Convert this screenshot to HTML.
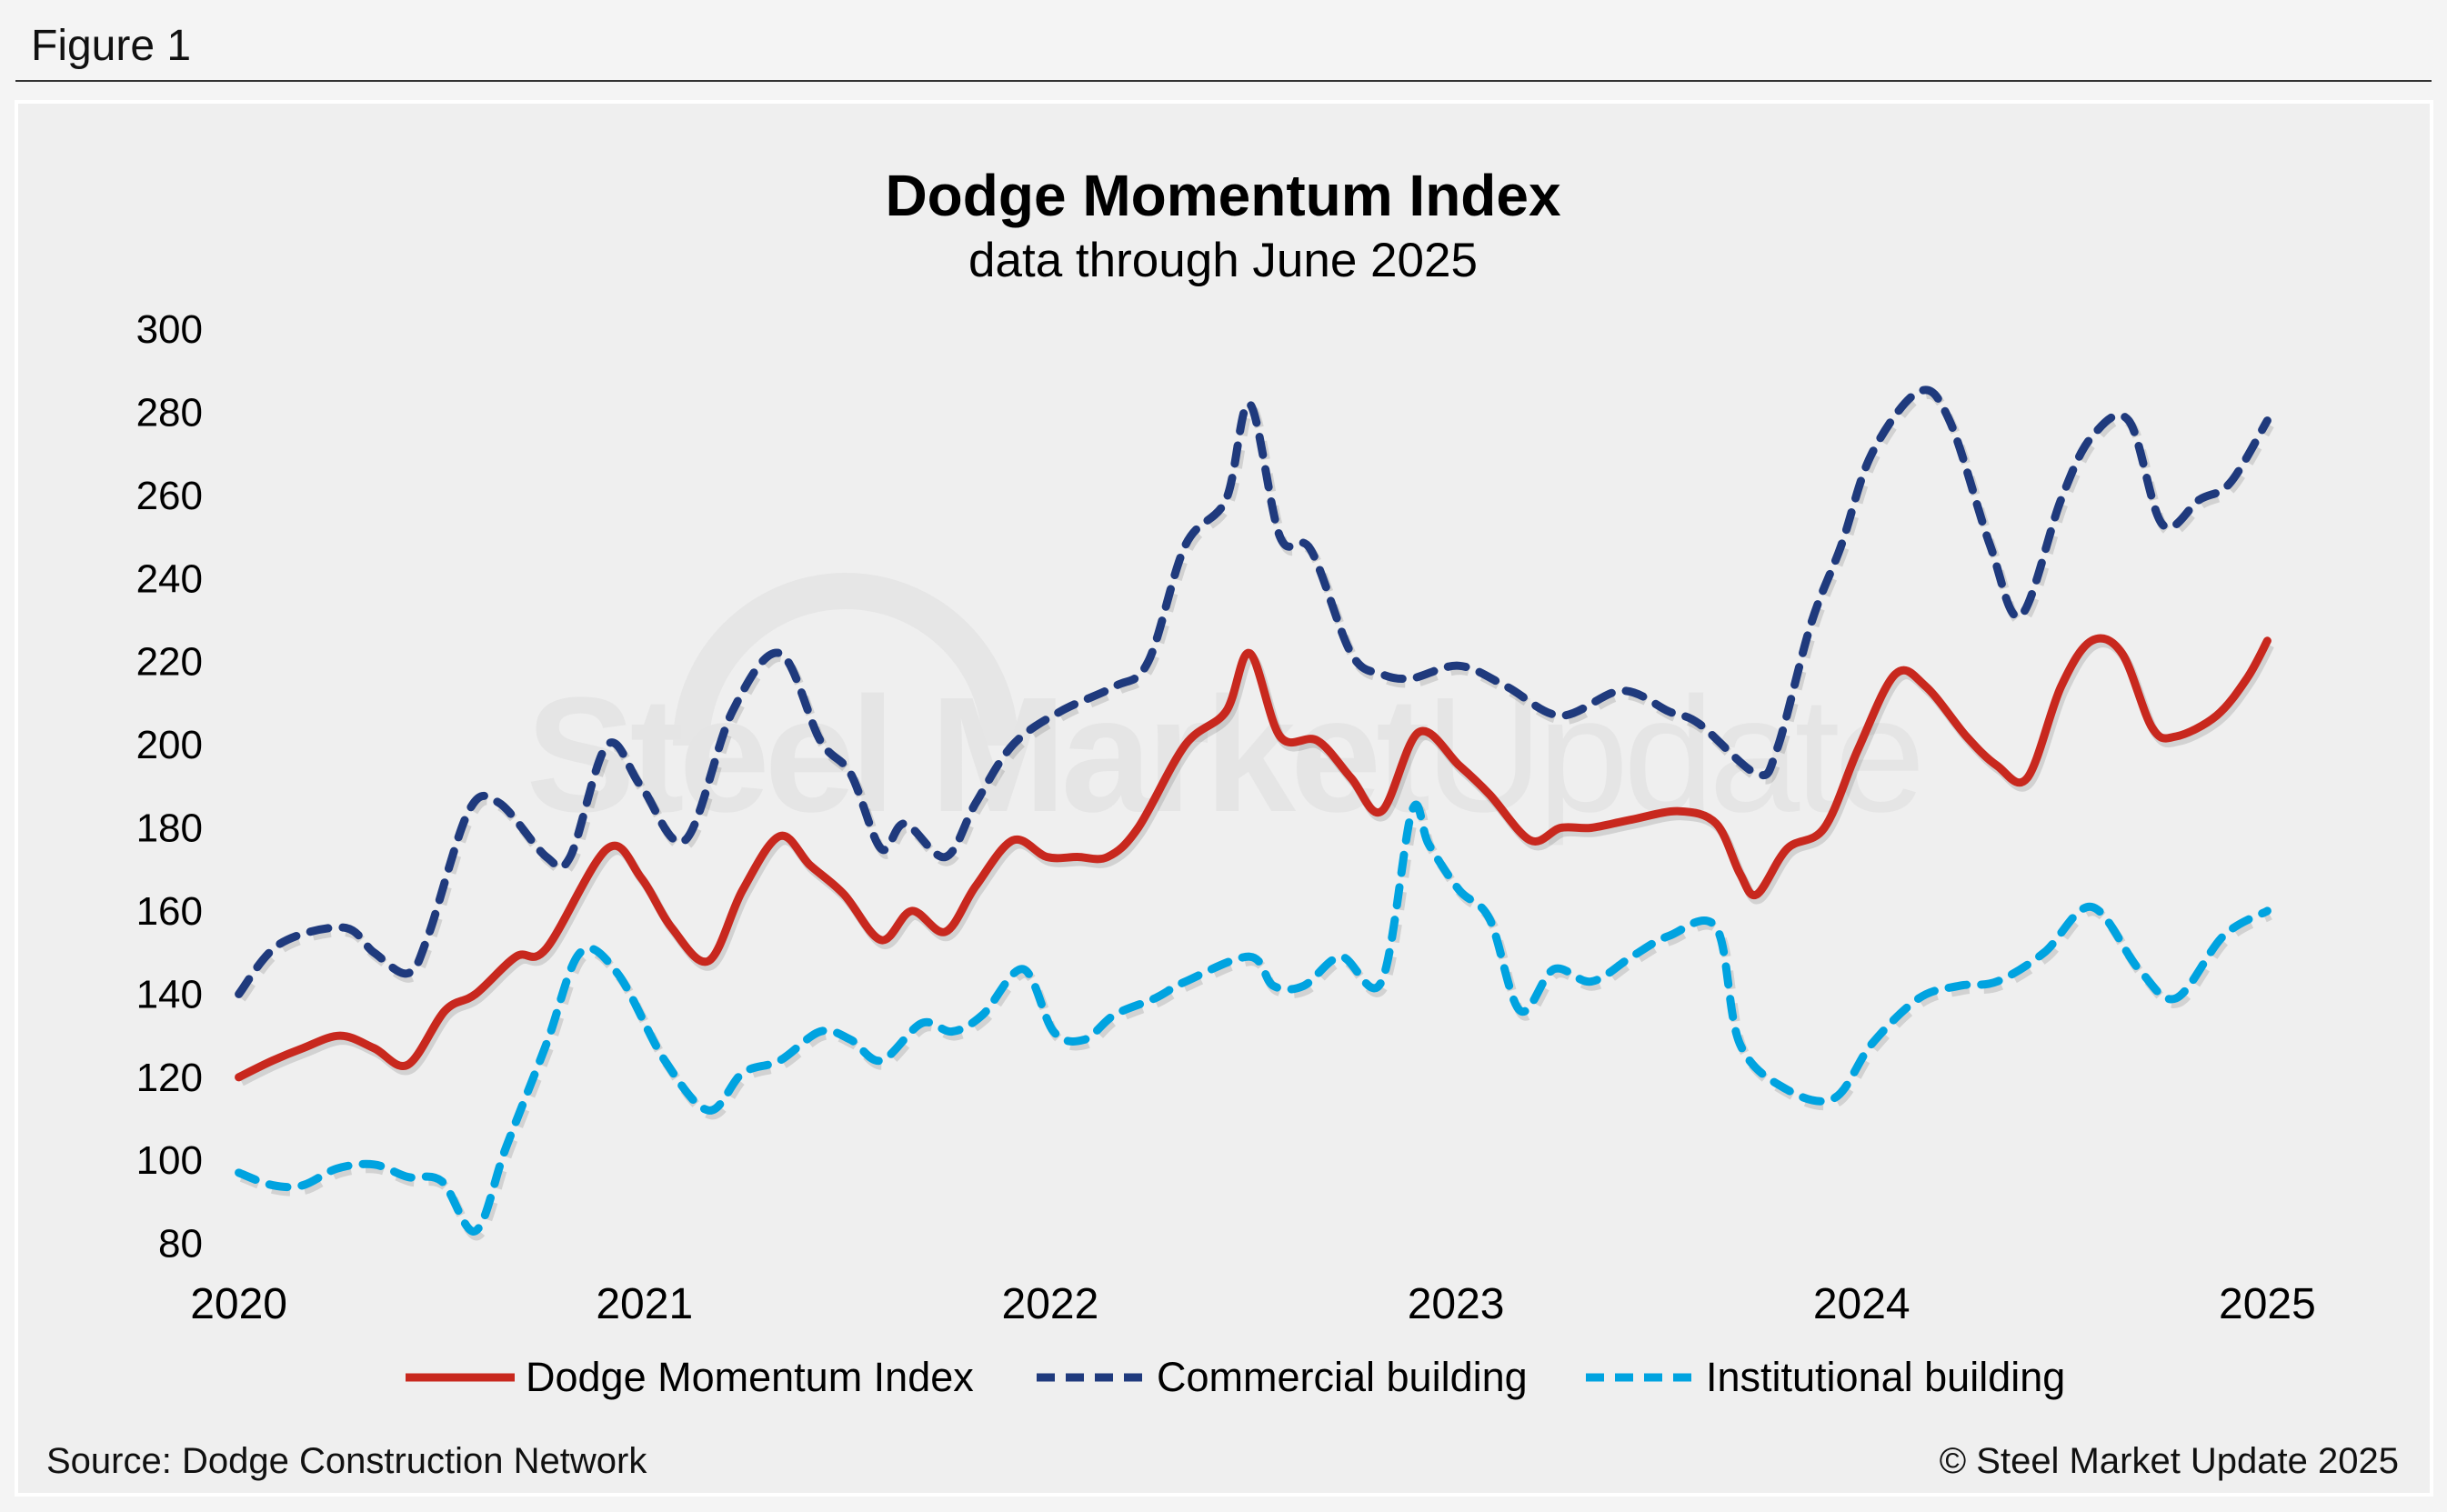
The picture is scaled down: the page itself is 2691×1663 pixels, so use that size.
<!DOCTYPE html>
<html><head><meta charset="utf-8"><style>
body{margin:0;background:#f4f4f4;}
svg{display:block;font-family:"Liberation Sans",Arial,sans-serif;}
</style></head><body>
<svg width="2691" height="1663" viewBox="0 0 2691 1663">
<rect x="0" y="0" width="2691" height="1663" fill="#f4f4f4"/>
<text x="34" y="66" font-size="48" fill="#111">Figure 1</text>
<line x1="17" y1="89" x2="2674" y2="89" stroke="#333" stroke-width="2"/>
<rect x="18" y="112" width="2656" height="1532" fill="#efefef" stroke="#fff" stroke-width="4"/>
<g>
<path d="M760,820 A170,170 0 0 1 1100,820" fill="none" stroke="#e6e6e6" stroke-width="40"/>
<text x="1345" y="892" font-size="180" font-weight="bold" fill="#e5e5e5" text-anchor="middle" letter-spacing="-6">Steel Market<tspan font-weight="normal">Update</tspan></text>
</g>
<text x="1345" y="237" font-size="64" font-weight="bold" fill="#000" text-anchor="middle">Dodge Momentum Index</text>
<text x="1345" y="304" font-size="53" fill="#000" text-anchor="middle">data through June 2025</text>
<g id="yaxis"></g>
<g id="xaxis"></g>
<g id="series"></g>
<g>
<g><line x1="446" y1="1515" x2="566" y2="1515" stroke="#c8281e" stroke-width="9"/><text x="578" y="1530" font-size="45" fill="#000">Dodge Momentum Index</text></g>
<g><line x1="1140" y1="1515" x2="1262" y2="1515" stroke="#1f3a7d" stroke-width="9" stroke-dasharray="20,12"/><text x="1272" y="1530" font-size="45" fill="#000">Commercial building</text></g>
<g><line x1="1744" y1="1515" x2="1866" y2="1515" stroke="#00a3e0" stroke-width="9" stroke-dasharray="20,12"/><text x="1876" y="1530" font-size="45" fill="#000">Institutional building</text></g>
</g>
<text x="51" y="1620" font-size="40" fill="#111">Source: Dodge Construction Network</text>
<text x="2638" y="1620" font-size="40" fill="#111" text-anchor="end">© Steel Market Update 2025</text>
</svg>
<script>
const yTicks=[80,100,120,140,160,180,200,220,240,260,280,300];
const xTickLabels=["2020","2021","2022","2023","2024","2025"];
const dmiMonths=[0,1.0,1.9,3.0,4.0,5.0,6.1,7.0,8.2,9.1,10.9,11.9,12.8,13.9,14.9,16.0,16.9,17.9,19.0,19.9,20.9,21.8,22.9,23.9,24.8,25.7,26.6,28.0,29.2,29.9,30.8,31.9,32.9,33.8,34.9,36.1,37.0,38.2,39.1,40.0,41.2,42.6,43.7,44.4,44.9,45.8,46.9,47.9,49.0,49.9,51.1,52.0,52.9,53.9,54.8,55.7,56.6,57.3,58.5,59.4,60];
const dmiValues=[120,124,127,130,127,123,136,140,149,151,175,168,156,148,165,178,171,164,153,160,155,166,177,173,173,173,180,200,208,222,202,201,192,184,203,195,188,177,180,180,182,184,181,169,164,175,180,199,217,214,202,195,192,214,225,222,204,202,207,216,225];
const comMonths=[0,1.2,3.1,4.0,5.0,5.6,6.8,7.7,9.1,9.8,10.9,11.9,13.2,14.6,16.0,17.2,18.1,19.0,19.7,20.9,21.8,22.9,24.3,25.9,26.9,28.0,29.2,29.9,30.8,31.7,32.9,33.8,34.7,36.1,37.5,39.1,40.9,42.3,43.2,44.9,45.5,46.5,47.4,48.3,49.7,50.6,51.8,52.7,53.9,54.8,55.9,56.9,58.0,58.9,60];
const comValues=[140,152,156,150,145,154,184,186,173,173,200,190,177,208,222,201,193,175,181,173,186,200,208,214,220,248,259,282,250,247,222,217,216,219,214,207,213,208,205,193,199,229,248,270,285,278,248,231,259,274,278,253,259,263,278];
const insMonths=[0,1.0,1.9,2.9,4.0,5.0,6.0,7.0,7.9,9.1,10.1,11.2,12.6,13.9,14.9,16.0,17.2,18.1,19.0,20.2,21.1,22.0,23.2,24.1,25.0,25.9,27.1,28.0,29.9,30.6,31.5,32.6,33.8,34.7,35.2,36.1,37.0,37.9,38.9,40.0,41.2,42.3,43.7,44.4,45.8,47.2,48.3,49.7,50.9,52.0,53.4,54.8,56.2,57.3,58.7,60];
const insValues=[97,94,94,98,99,96,95,83,103,128,150,145,124,112,121,124,131,129,124,133,131,135,146,131,129,135,139,143,149,142,142,149,143,184,176,165,158,136,146,143,149,154,156,128,117,115,128,139,142,143,150,161,146,139,154,160];

const X0=262.6, PXM=37.18, Y300=362, PXU=4.571;
function xs(m){return X0+m*PXM;}
function ys(v){return Y300+(300-v)*PXU;}
const NS="http://www.w3.org/2000/svg";
const yg=document.getElementById('yaxis');
yTicks.forEach(v=>{
  const t=document.createElementNS(NS,'text');
  t.setAttribute('x',223);t.setAttribute('y',ys(v)+15);
  t.setAttribute('text-anchor','end');t.setAttribute('font-size','44');t.setAttribute('fill','#000');
  t.textContent=v;
  
  
  yg.appendChild(t);
});
const xg=document.getElementById('xaxis');
xTickLabels.forEach((l,i)=>{
  const t=document.createElementNS(NS,'text');
  t.setAttribute('x',xs(i*12));t.setAttribute('y',1450);
  t.setAttribute('text-anchor','middle');t.setAttribute('font-size','48');t.setAttribute('fill','#000');
  t.textContent=l;
  
  
  xg.appendChild(t);
});
function pathD(ms,vs){
  const p=ms.map((m,i)=>[xs(m),ys(vs[i])]);
  let d='M'+p[0][0].toFixed(1)+','+p[0][1].toFixed(1);
  for(let i=0;i<p.length-1;i++){
    const a=p[i-1]||p[i],b=p[i],c=p[i+1],e=p[i+2]||c;
    const c1=[b[0]+(c[0]-a[0])/6,b[1]+(c[1]-a[1])/6];
    const c2=[c[0]-(e[0]-b[0])/6,c[1]-(e[1]-b[1])/6];
    d+=`C${c1[0].toFixed(1)},${c1[1].toFixed(1)} ${c2[0].toFixed(1)},${c2[1].toFixed(1)} ${c[0].toFixed(1)},${c[1].toFixed(1)}`;
  }
  return d;
}
const sg=document.getElementById('series');
function addLine(ms,vs,color,dash,name){
  const sh=document.createElementNS(NS,'path');
  sh.setAttribute('d',pathD(ms,vs));sh.setAttribute('fill','none');
  sh.setAttribute('stroke','rgba(0,0,0,0.12)');sh.setAttribute('stroke-width','10');
  sh.setAttribute('transform','translate(3,5)');
  if(dash)sh.setAttribute('stroke-dasharray',dash);
  
  
  sg.appendChild(sh);
  const p=document.createElementNS(NS,'path');
  p.setAttribute('d',pathD(ms,vs));p.setAttribute('fill','none');
  p.setAttribute('stroke',color);p.setAttribute('stroke-width','9');
  p.setAttribute('stroke-linecap','round');p.setAttribute('stroke-linejoin','round');
  if(dash)p.setAttribute('stroke-dasharray',dash);
  
  
  sg.appendChild(p);
}
addLine(insMonths,insValues,'#00a3e0','20,16','institutional-line');
addLine(comMonths,comValues,'#1f3a7d','20,16','commercial-line');
addLine(dmiMonths,dmiValues,'#c8281e',null,'dmi-line');
</script>
</body></html>
